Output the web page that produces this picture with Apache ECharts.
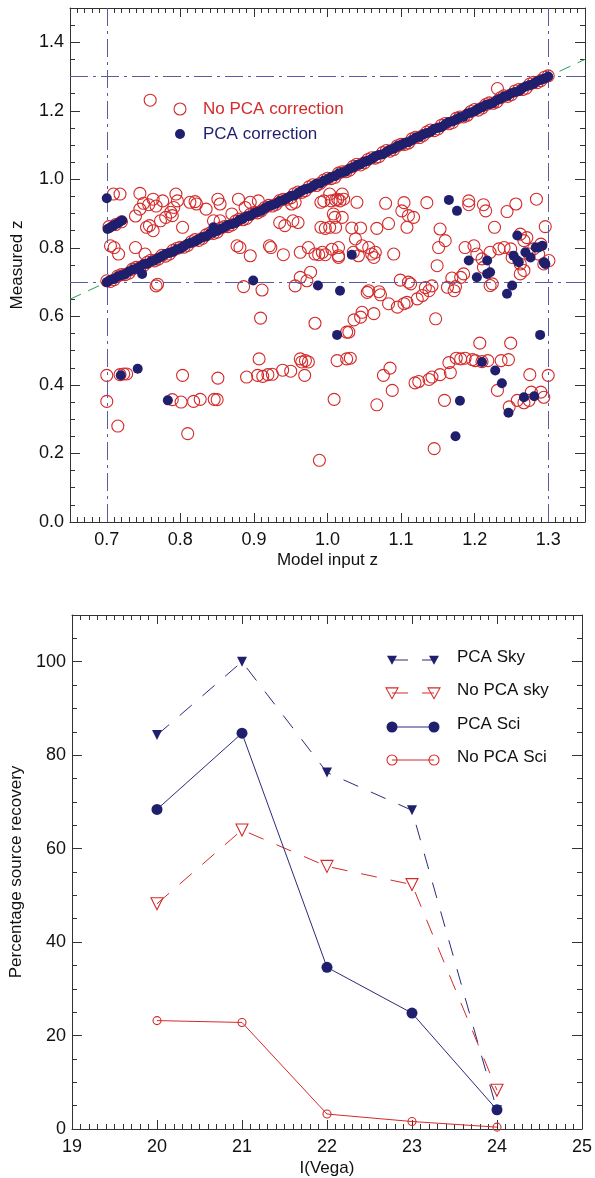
<!DOCTYPE html>
<html>
<head>
<meta charset="utf-8">
<script src="https://cdn.jsdelivr.net/npm/echarts@6.0.0/dist/echarts.min.js"></script>
<style>
html,body{margin:0;padding:0;background:#fff;}
#chart{width:595px;height:1178px;}
</style>
</head>
<body>
<div id="chart"></div>
<script>
// ---------- Top panel data: measured z vs model input z ----------
const noPcaScatter = [
 [0.709,0.957],[0.718,0.957],[0.745,0.959],[0.750,0.930],[0.757,0.926],[0.745,0.913],[0.739,0.893],[0.763,0.942],[0.767,0.922],[0.776,0.937],
 [0.794,0.957],[0.796,0.937],[0.791,0.918],[0.787,0.904],[0.780,0.889],[0.773,0.879],[0.789,0.894],[0.754,0.860],[0.758,0.865],[0.763,0.850],
 [0.803,0.860],[0.813,0.933],[0.822,0.928],[0.820,0.935],[0.835,0.913],[0.851,0.942],[0.854,0.928],[0.845,0.879],[0.854,0.879],[0.870,0.899],
 [0.879,0.942],[0.888,0.918],[0.895,0.933],[0.906,0.937],[0.935,0.874],[0.942,0.865],[0.953,0.879],[0.960,0.874],[0.951,0.928],[0.956,0.933],
 [0.991,0.933],[0.995,0.937],[1.003,0.957],[1.005,0.937],[1.014,0.942],[0.991,0.860],[0.997,0.857],[1.003,0.860],[1.010,0.889],[1.008,0.899],
 [0.705,0.806],[0.710,0.801],[0.716,0.782],[0.739,0.801],[0.752,0.782],[0.767,0.689],[0.769,0.694],[0.703,0.862],[0.712,0.868],[0.720,0.876],
 [0.877,0.806],[0.881,0.801],[0.895,0.777],[0.886,0.687],[0.911,0.677],[0.921,0.806],[0.923,0.801],[0.940,0.780],[0.956,0.689],[0.972,0.704],
 [0.963,0.787],[0.974,0.801],[0.983,0.782],[0.997,0.780],[1.006,0.796],[1.015,0.777],[0.963,0.714],[0.977,0.729],[0.988,0.780],[0.993,0.787],
 [1.020,0.957],[1.022,0.942],[1.017,0.937],[1.011,0.940],[1.040,0.933],[1.020,0.889],[1.011,0.860],[1.033,0.858],[1.045,0.858],[1.038,0.826],
 [1.067,0.857],[1.083,0.871],[1.079,0.930],[1.104,0.932],[1.101,0.908],[1.117,0.889],[1.110,0.894],[1.108,0.860],[1.135,0.932],[1.153,0.855],
 [1.160,0.821],[1.151,0.801],[1.149,0.748],[1.015,0.801],[1.015,0.772],[1.035,0.787],[1.042,0.777],[1.047,0.806],[1.056,0.801],[1.060,0.782],
 [1.063,0.772],[1.065,0.787],[1.090,0.782],[1.099,0.706],[1.110,0.700],[1.113,0.695],[1.056,0.675],[1.070,0.672],[1.072,0.663],[1.054,0.670],
 [1.133,0.684],[1.142,0.689],[1.138,0.675],[1.129,0.661],[1.163,0.685],[1.172,0.675],[1.174,0.687],[1.181,0.714],[1.185,0.724],[1.169,0.712],
 [1.187,0.801],[1.199,0.806],[1.203,0.782],[1.210,0.768],[1.212,0.743],[1.221,0.787],[1.224,0.695],[1.221,0.690],[1.192,0.937],[1.192,0.926],
 [1.212,0.926],[1.215,0.908],[1.227,0.860],[1.244,0.906],[1.256,0.928],[1.284,0.942],[1.296,0.862],[1.233,0.797],[1.240,0.801],[1.249,0.797],
 [1.251,0.772],[1.262,0.840],[1.267,0.821],[1.271,0.830],[1.280,0.797],[1.287,0.782],[1.290,0.811],[1.294,0.753],[1.301,0.763],[1.262,0.753],
 [1.262,0.724],[1.267,0.734],[1.274,0.782],
 [1.083,0.637],[1.095,0.627],[1.104,0.637],[1.108,0.641],[1.122,0.651],[1.036,0.590],[1.045,0.598],[1.047,0.612],[1.063,0.608],[1.147,0.593],
 [0.983,0.580],[0.909,0.595],[1.026,0.554],[1.029,0.554],
 [0.700,0.428],[0.718,0.430],[0.723,0.432],[0.727,0.432],[0.700,0.352],[0.715,0.280],[0.789,0.357],[0.801,0.350],[0.818,0.352],[0.827,0.358],
 [0.846,0.358],[0.850,0.357],[0.803,0.428],[0.851,0.420],[0.810,0.258],[0.890,0.423],[0.905,0.428],[0.912,0.425],[0.919,0.430],[0.925,0.431],
 [0.907,0.476],[0.939,0.443],[0.950,0.440],[0.963,0.476],[0.970,0.471],[0.974,0.467],[0.965,0.467],[0.969,0.428],[1.009,0.358],[0.989,0.180],
 [1.013,0.471],[1.026,0.476],[1.031,0.478],[1.067,0.342],[1.076,0.428],[1.085,0.449],[1.088,0.384],[1.119,0.406],[1.124,0.410],[1.138,0.416],
 [1.142,0.423],[1.153,0.430],[1.167,0.436],[1.165,0.465],[1.175,0.478],[1.181,0.476],[1.187,0.478],[1.197,0.474],[1.201,0.471],[1.210,0.468],
 [1.218,0.471],[1.207,0.522],[1.236,0.471],[1.246,0.474],[1.249,0.522],[1.159,0.355],[1.145,0.214],[1.231,0.384],[1.275,0.430],[1.300,0.428],
 [1.247,0.336],[1.258,0.355],[1.267,0.348],[1.274,0.355],[1.277,0.379],[1.290,0.379],[1.294,0.364],
 [0.759,1.231],[1.231,1.265]
];
const noPcaDiag = [
 [0.70,0.704],[0.71,0.707],[0.72,0.722],[0.73,0.726],[0.74,0.743],[0.75,0.748],[0.76,0.764],[0.77,0.767],[0.78,0.776],[0.79,0.793],
 [0.80,0.802],[0.81,0.807],[0.82,0.824],[0.83,0.828],[0.84,0.843],[0.85,0.846],[0.86,0.862],[0.87,0.867],[0.88,0.884],[0.89,0.886],
 [0.90,0.903],[0.91,0.908],[0.92,0.924],[0.93,0.927],[0.94,0.942],[0.95,0.946],[0.96,0.963],[0.97,0.967],[0.98,0.984],[0.99,0.988],
 [1.00,1.003],[1.01,1.006],[1.02,1.022],[1.03,1.027],[1.04,1.044],[1.05,1.048],[1.06,1.063],[1.07,1.066],[1.08,1.084],[1.09,1.087],
 [1.10,1.102],[1.11,1.106],[1.12,1.123],[1.13,1.128],[1.14,1.144],[1.15,1.147],[1.16,1.163],[1.17,1.166],[1.18,1.182],[1.19,1.187],
 [1.20,1.204],[1.21,1.208],[1.22,1.223],[1.23,1.226],[1.24,1.244],[1.25,1.247],[1.26,1.262],[1.27,1.266],[1.28,1.283],[1.29,1.288],
 [1.30,1.302],
 [0.705,0.702],[0.715,0.718],[0.725,0.722],[0.735,0.738],[0.745,0.742],[0.755,0.758],[0.765,0.762],[0.775,0.778],[0.785,0.782],[0.795,0.798],
 [0.805,0.802],[0.815,0.818],[0.825,0.822],[0.835,0.838],[0.845,0.842],[0.855,0.858],[0.865,0.862],[0.875,0.878],[0.885,0.882],[0.895,0.898],
 [0.905,0.902],[0.915,0.918],[0.925,0.922],[0.935,0.938],[0.945,0.942],[0.955,0.958],[0.965,0.962],[0.975,0.978],[0.985,0.982],[0.995,0.998],
 [1.005,1.002],[1.015,1.018],[1.025,1.022],[1.035,1.038],[1.045,1.042],[1.055,1.058],[1.065,1.062],[1.075,1.078],[1.085,1.082],[1.095,1.098],
 [1.105,1.102],[1.115,1.118],[1.125,1.122],[1.135,1.138],[1.145,1.142],[1.155,1.158],[1.165,1.162],[1.175,1.178],[1.185,1.182],[1.195,1.198],
 [1.205,1.202],[1.215,1.218],[1.225,1.222],[1.235,1.238],[1.245,1.242],[1.255,1.258],[1.265,1.262],[1.275,1.278],[1.285,1.282],[1.295,1.298]
];
const pcaScatter = [
 [0.700,0.945],[0.701,0.855],[0.705,0.860],[0.709,0.865],[0.713,0.870],[0.717,0.875],[0.721,0.880],[0.748,0.724],[0.845,0.860],[0.899,0.705],
 [0.987,0.690],[1.017,0.675],[1.033,0.780],[1.165,0.940],[1.176,0.908],[1.192,0.763],[1.217,0.763],[1.217,0.724],[1.221,0.729],[1.203,0.714],
 [1.251,0.690],[1.244,0.666],[1.258,0.836],[1.253,0.777],[1.258,0.763],[1.260,0.758],[1.269,0.787],[1.276,0.772],[1.283,0.801],[1.287,0.801],
 [1.292,0.806],[1.294,0.758],[1.296,0.753],[0.719,0.428],[0.742,0.447],[0.783,0.355],[1.013,0.546],[1.210,0.467],[1.228,0.442],[1.237,0.405],
 [1.180,0.354],[1.174,0.250],[1.246,0.319],[1.267,0.364],[1.281,0.367],[1.289,0.546]
];
const pcaDiag = [
 [0.700,0.700],[0.705,0.706],[0.710,0.709],[0.715,0.717],[0.720,0.720],[0.725,0.723],[0.730,0.731],[0.735,0.737],[0.740,0.739],[0.745,0.745],
 [0.750,0.752],[0.755,0.754],[0.760,0.761],[0.765,0.763],[0.770,0.770],[0.775,0.776],[0.780,0.782],[0.785,0.785],[0.790,0.789],[0.795,0.796],
 [0.800,0.798],[0.805,0.805],[0.810,0.812],[0.815,0.816],[0.820,0.819],[0.825,0.825],[0.830,0.831],[0.835,0.833],[0.840,0.842],[0.845,0.845],
 [0.850,0.849],[0.855,0.856],[0.860,0.860],[0.865,0.867],[0.870,0.869],[0.875,0.873],[0.880,0.881],[0.885,0.885],[0.890,0.892],[0.895,0.894],
 [0.900,0.901],[0.905,0.905],[0.910,0.908],[0.915,0.916],[0.920,0.922],[0.925,0.925],[0.930,0.929],[0.935,0.937],[0.940,0.939],[0.945,0.945],
 [0.950,0.951],[0.955,0.953],[0.960,0.960],[0.965,0.967],[0.970,0.971],[0.975,0.974],[0.980,0.980],[0.985,0.987],[0.990,0.988],[0.995,0.996],
 [1.000,1.000],[1.005,1.006],[1.010,1.009],[1.015,1.017],[1.020,1.020],[1.025,1.023],[1.030,1.031],[1.035,1.035],[1.040,1.042],[1.045,1.044],
 [1.050,1.051],[1.055,1.054],[1.060,1.060],[1.065,1.067],[1.070,1.071],[1.075,1.073],[1.080,1.080],[1.085,1.086],[1.090,1.089],[1.095,1.097],
 [1.100,1.100],[1.105,1.106],[1.110,1.108],[1.115,1.115],[1.120,1.122],[1.125,1.124],[1.130,1.131],[1.135,1.135],[1.140,1.139],[1.145,1.147],
 [1.150,1.150],[1.155,1.153],[1.160,1.161],[1.165,1.167],[1.170,1.169],[1.175,1.175],[1.180,1.181],[1.185,1.183],[1.190,1.192],[1.195,1.195],
 [1.200,1.199],[1.205,1.206],[1.210,1.210],[1.215,1.217],[1.220,1.219],[1.225,1.223],[1.230,1.231],[1.235,1.235],[1.240,1.242],[1.245,1.244],
 [1.250,1.251],[1.255,1.255],[1.260,1.258],[1.265,1.266],[1.270,1.272],[1.275,1.275],[1.280,1.279],[1.285,1.286],[1.290,1.290],[1.295,1.294],
 [1.300,1.300]
];
const identityLine = [[0.65,0.65],[1.35,1.35]];
const guideX = [0.7, 1.3];
const guideY = [0.7, 1.3];

// ---------- Bottom panel data: recovery vs I(Vega) ----------
const magnitudes = [20, 21, 22, 23, 24];
const pcaSky   = [84.3, 100.0, 76.3, 68.2, 4.0];
const noPcaSky = [48.2, 64.0, 56.2, 52.3, 8.3];
const pcaSci   = [68.4, 84.7, 34.6, 24.8, 4.1];
const noPcaSci = [23.2, 22.8, 3.2, 1.6, 0.4];
const legendNamesBottom = ['PCA Sky', 'No PCA sky', 'PCA Sci', 'No PCA Sci'];
const legendNamesTop = ['No PCA correction', 'PCA correction'];

// ---------- styles ----------
const NAVY = '#1f1f6e';
const RED = '#d42a2a';
const GUIDE = '#5a5aa2';
const AX = '#333';
const FONT = '"Liberation Sans", Arial, Helvetica, sans-serif';

function pairs(xs, ys){ return xs.map((x,i)=>[x, ys[i]]); }

function xAxesFor(grid, o){
  const base = {type:'value', gridIndex:grid, min:o.min, max:o.max, splitLine:{show:false}};
  return [
    Object.assign({}, base, {
      position:'bottom', interval:o.interval, splitNumber:o.splitNumber,
      axisLine:{show:true,onZero:false,lineStyle:{color:AX,width:1}},
      axisTick:{show:true,inside:true,length:9,lineStyle:{color:AX,width:1}},
      axisLabel:{show:true,fontSize:18,color:'#111',fontFamily:FONT,margin:9,
        showMinLabel:o.showMin, showMaxLabel:o.showMax, formatter:o.fmt},
      name:o.name, nameLocation:'middle', nameGap:o.nameGap,
      nameTextStyle:{fontSize:17,color:'#111',fontFamily:FONT}
    }),
    Object.assign({}, base, {
      position:'bottom', interval:o.minor,
      axisLine:{show:false,onZero:false}, axisLabel:{show:false},
      axisTick:{show:true,inside:true,length:5,lineStyle:{color:AX,width:1}}
    }),
    Object.assign({}, base, {
      position:'top', interval:o.interval, splitNumber:o.splitNumber,
      axisLine:{show:true,onZero:false,lineStyle:{color:AX,width:1}},
      axisTick:{show:true,inside:true,length:9,lineStyle:{color:AX,width:1}},
      axisLabel:{show:false}
    }),
    Object.assign({}, base, {
      position:'top', interval:o.minor,
      axisLine:{show:false,onZero:false}, axisLabel:{show:false},
      axisTick:{show:true,inside:true,length:5,lineStyle:{color:AX,width:1}}
    })
  ];
}
function yAxesFor(grid, o){
  const base = {type:'value', gridIndex:grid, min:o.min, max:o.max, splitLine:{show:false}};
  return [
    Object.assign({}, base, {
      position:'left', interval:o.interval,
      axisLine:{show:true,onZero:false,lineStyle:{color:AX,width:1}},
      axisTick:{show:true,inside:true,length:10,lineStyle:{color:AX,width:1}},
      axisLabel:{show:true,fontSize:18,color:'#111',fontFamily:FONT,margin:6,
        showMinLabel:true, showMaxLabel:o.showMax, formatter:o.fmt},
      name:o.name, nameLocation:'middle', nameGap:o.nameGap, nameRotate:90,
      nameTextStyle:{fontSize:17,color:'#111',fontFamily:FONT}
    }),
    Object.assign({}, base, {
      position:'left', interval:o.minor,
      axisLine:{show:false,onZero:false}, axisLabel:{show:false},
      axisTick:{show:true,inside:true,length:5,lineStyle:{color:AX,width:1}}
    }),
    Object.assign({}, base, {
      position:'right', interval:o.interval,
      axisLine:{show:true,onZero:false,lineStyle:{color:AX,width:1}},
      axisTick:{show:true,inside:true,length:10,lineStyle:{color:AX,width:1}},
      axisLabel:{show:false}
    }),
    Object.assign({}, base, {
      position:'right', interval:o.minor,
      axisLine:{show:false,onZero:false}, axisLabel:{show:false},
      axisTick:{show:true,inside:true,length:5,lineStyle:{color:AX,width:1}}
    })
  ];
}

const xAxis = [].concat(
  xAxesFor(0, {min:0.65,max:1.35,splitNumber:7,minor:0.01,showMin:false,showMax:false,
    fmt:v=>v.toFixed(1), name:'Model input z', nameGap:30}),
  xAxesFor(1, {min:19,max:25,interval:1,minor:0.1,showMin:true,showMax:true,
    fmt:v=>String(v), name:'I(Vega)', nameGap:31})
);
const yAxis = [].concat(
  yAxesFor(0, {min:0,max:1.5,interval:0.2,minor:0.05,showMax:false,
    fmt:v=>v.toFixed(1), name:'Measured z', nameGap:44}),
  yAxesFor(1, {min:0,max:110,interval:20,minor:5,showMax:false,
    fmt:v=>String(v), name:'Percentage source recovery', nameGap:47})
);

const openRed = {color:'rgba(0,0,0,0)', borderColor:RED, borderWidth:1.1, opacity:1};
const solidNavy = {color:NAVY, borderWidth:0, borderColor:NAVY, opacity:1};

const series = [
  { // y = x reference and dash-dot window
    type:'line', xAxisIndex:0, yAxisIndex:0, data:identityLine, symbol:'none', silent:true, z:1,
    lineStyle:{color:'#23a050', width:1, type:[12,8]},
    markLine:{
      symbol:'none', silent:true, label:{show:false}, animation:false,
      lineStyle:{color:GUIDE, width:1, type:[18,5,3,5]},
      data: guideX.map(v=>({xAxis:v})).concat(guideY.map(v=>({yAxis:v})))
    }
  },
  {
    name:legendNamesTop[0], type:'scatter', xAxisIndex:0, yAxisIndex:0, z:2, large:false,
    data:noPcaScatter.concat(noPcaDiag), symbol:'circle', symbolSize:12, itemStyle:openRed
  },
  {
    name:legendNamesTop[1], type:'scatter', xAxisIndex:0, yAxisIndex:0, z:10, large:false,
    data:pcaScatter.concat(pcaDiag), symbol:'circle', symbolSize:10, itemStyle:solidNavy
  },
  {
    name:legendNamesBottom[0], type:'line', xAxisIndex:4, yAxisIndex:4, data:pairs(magnitudes,pcaSky),
    symbol:'triangle', symbolRotate:180, symbolSize:10, itemStyle:solidNavy,
    lineStyle:{color:'#2a2a7c', width:1, type:[16,14]}
  },
  {
    name:legendNamesBottom[1], type:'line', xAxisIndex:4, yAxisIndex:4, data:pairs(magnitudes,noPcaSky),
    symbol:'triangle', symbolRotate:180, symbolSize:12, itemStyle:openRed,
    lineStyle:{color:RED, width:1, type:[16,14]}
  },
  {
    name:legendNamesBottom[2], type:'line', xAxisIndex:4, yAxisIndex:4, data:pairs(magnitudes,pcaSci),
    symbol:'circle', symbolSize:11, itemStyle:solidNavy,
    lineStyle:{color:'#2a2a7c', width:1}
  },
  {
    name:legendNamesBottom[3], type:'line', xAxisIndex:4, yAxisIndex:4, data:pairs(magnitudes,noPcaSci),
    symbol:'circle', symbolSize:8, itemStyle:openRed,
    lineStyle:{color:RED, width:1}
  }
];

// ---------- legends (drawn as graphic decorations) ----------
const graphic = [];
// top legend
graphic.push({type:'circle', shape:{cx:180,cy:109,r:6}, style:{fill:'none',stroke:RED,lineWidth:1.1}});
graphic.push({type:'text', x:203, y:109, style:{text:legendNamesTop[0], fill:RED, font:'17px '+FONT, verticalAlign:'middle'}});
graphic.push({type:'circle', shape:{cx:180,cy:134,r:5}, style:{fill:NAVY}});
graphic.push({type:'text', x:203, y:134, style:{text:legendNamesTop[1], fill:NAVY, font:'17px '+FONT, verticalAlign:'middle'}});
// bottom legend
const rowsY = [660, 693, 727, 760];
const lx1 = 392, lx2 = 434, tx = 457;
function downTri(cx, cy, s){ return [[cx-s, cy-s*0.85],[cx+s, cy-s*0.85],[cx, cy+s*0.95]]; }
legendNamesBottom.forEach((nm, i)=>{
  const y = rowsY[i];
  const isRed = (i===1 || i===3);
  const dashed = (i<2);
  graphic.push({type:'line', shape:{x1:lx1,y1:y,x2:lx2,y2:y},
    style:{stroke:isRed?RED:'#2a2a7c', lineWidth:1, lineDash:dashed?[16,14]:null}});
  [lx1, lx2].forEach(cx=>{
    if (i===0) graphic.push({type:'polygon', shape:{points:downTri(cx,y,5)}, style:{fill:NAVY}});
    if (i===1) graphic.push({type:'polygon', shape:{points:downTri(cx,y,6)}, style:{fill:'none',stroke:RED,lineWidth:1.1}});
    if (i===2) graphic.push({type:'circle', shape:{cx:cx,cy:y,r:5.5}, style:{fill:NAVY}});
    if (i===3) graphic.push({type:'circle', shape:{cx:cx,cy:y,r:5}, style:{fill:'none',stroke:RED,lineWidth:1.1}});
  });
  graphic.push({type:'text', x:tx, y:y-3, style:{text:nm, fill:'#111', font:'17px '+FONT, verticalAlign:'middle'}});
});

const chart = echarts.init(document.getElementById('chart'), null, {renderer:'canvas'});
chart.setOption({
  animation:false,
  backgroundColor:'#fff',
  textStyle:{fontFamily:FONT},
  grid:[
    {left:70, top:8, width:515, height:514, containLabel:false},
    {left:70, top:615, width:515, height:514, containLabel:false}
  ],
  xAxis:xAxis,
  yAxis:yAxis,
  series:series,
  graphic:graphic
});
</script>
</body>
</html>
